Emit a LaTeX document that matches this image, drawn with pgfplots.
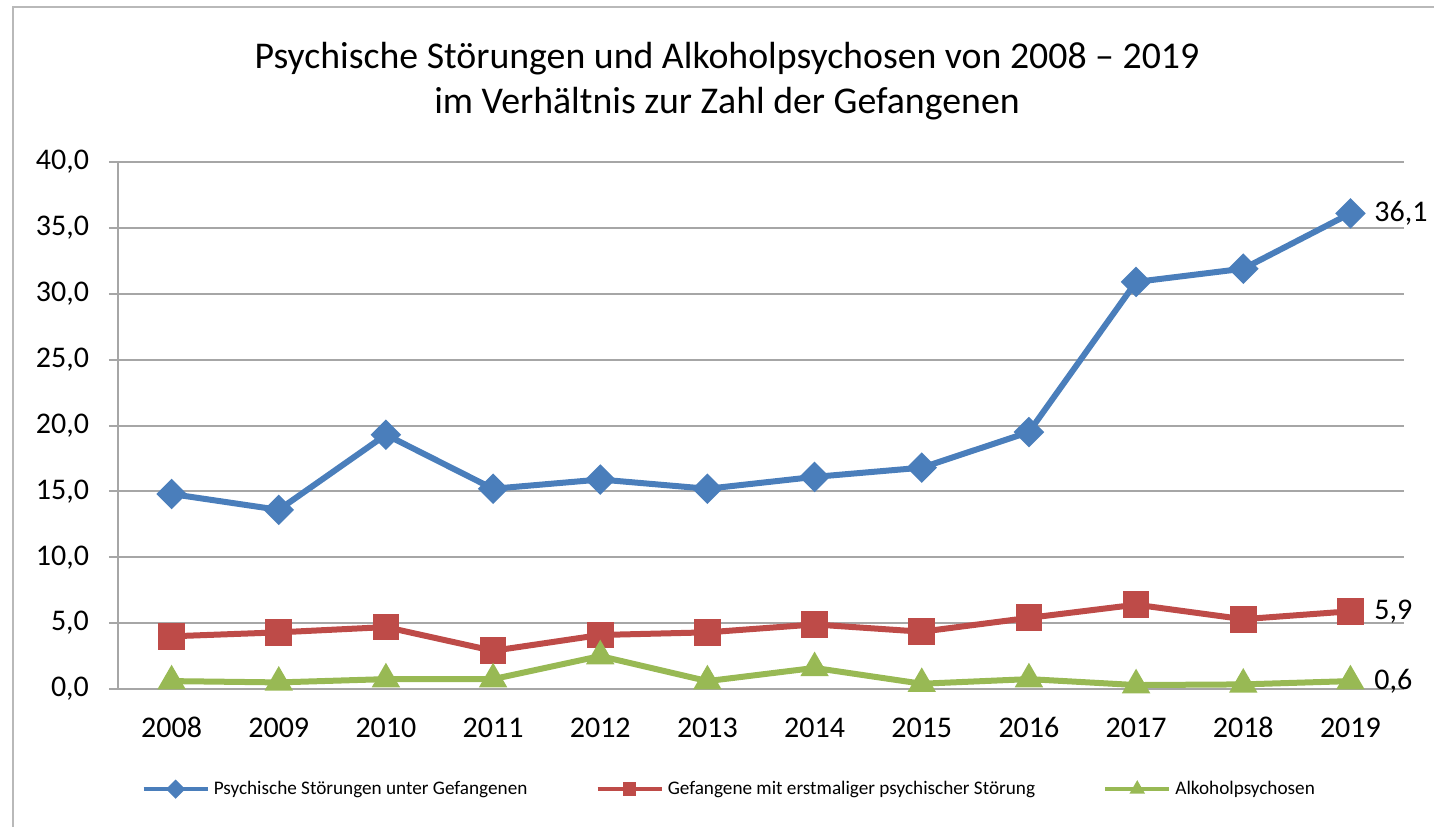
\documentclass[border=0pt]{standalone}
\usepackage{pgfplots}
\pgfplotsset{compat=1.18}
\usepackage{fontspec}
\setmainfont{Carlito}
\definecolor{cblue}{HTML}{4A7EBB}
\definecolor{cred}{HTML}{BE4B48}
\definecolor{cgreen}{HTML}{98B954}
\definecolor{cgrid}{HTML}{A6A6A6}
\begin{document}
\begin{tikzpicture}
\path[use as bounding box] (0,0) rectangle (717pt,413pt);
\draw[gray!55, line width=1.2pt] (6.5pt,-20pt) -- (6.5pt,409.5pt) -- (740pt,409.5pt);
\node[font=\fontsize{18.9}{22.5}\selectfont, align=center] at (363.5pt,372.5pt)
  {Psychische Störungen und Alkoholpsychosen von 2008 – 2019\\im Verhältnis zur Zahl der Gefangenen};
\begin{axis}[
  at={(59pt,68.5pt)}, anchor=south west,
  scale only axis, width=643pt, height=263.5pt,
  xmin=-0.5, xmax=11.5, ymin=0, ymax=40,
  clip=false,
  axis lines*=left,
  axis line style={draw=cgrid, line width=1pt},
  ymajorgrids, major grid style={draw=cgrid, line width=1pt},
  ytick={0,5,...,40},
  xtick={0,...,11},
  xticklabels={2008,2009,2010,2011,2012,2013,2014,2015,2016,2017,2018,2019},
  xtick style={draw=none},
  ytick style={draw=cgrid, line width=1pt},
  tick align=outside, major tick length=4.5pt,
  extra x ticks={-0.5,0.5,...,11.5},
  extra x tick labels={},
  extra x tick style={tick style={draw=cgrid, line width=1pt}, major tick length=5pt},
  ticklabel style={font=\fontsize{15}{18}\selectfont},
  yticklabel style={xshift=-6.5pt, /pgf/number format/.cd, fixed, fixed zerofill, precision=1, use comma, assume math mode=true},
  xticklabel style={yshift=-6pt, text height=10pt, text depth=0pt},
  legend style={at={(0.476,-0.19)}, anchor=center, legend columns=3, draw=none, fill=none,
    font=\fontsize{9.6}{11}\selectfont,
    /tikz/every even column/.append style={column sep=32pt},
    nodes={inner xsep=2pt}},
  legend image code/.code={\draw[#1, line width=2.2pt, mark size=2.3pt, mark repeat=2, mark phase=2] plot coordinates {(0pt,0pt) (16pt,0pt) (32pt,0pt)};},
]
\addplot[cblue, line width=3pt, mark=square*, mark size=3.9pt, mark options={rotate=45, solid}]
  coordinates {(0,14.8) (1,13.6) (2,19.3) (3,15.2) (4,15.9) (5,15.2) (6,16.1) (7,16.8) (8,19.5) (9,30.9) (10,31.9) (11,36.1)};
\addlegendentry{Psychische Störungen unter Gefangenen}
\addplot[cred, line width=3pt, mark=square*, mark size=5.2pt, mark options={solid}]
  coordinates {(0,4.0) (1,4.3) (2,4.7) (3,2.9) (4,4.1) (5,4.3) (6,4.9) (7,4.35) (8,5.4) (9,6.4) (10,5.3) (11,5.9)};
\addlegendentry{Gefangene mit erstmaliger psychischer Störung}
\addplot[cgreen, line width=3pt, mark=triangle*, mark size=5.2pt, mark options={solid}]
  coordinates {(0,0.6) (1,0.5) (2,0.75) (3,0.75) (4,2.5) (5,0.6) (6,1.6) (7,0.4) (8,0.75) (9,0.3) (10,0.35) (11,0.6)};
\addlegendentry{Alkoholpsychosen}
\node[anchor=west, font=\fontsize{15}{18}\selectfont, xshift=8.5pt] at (axis cs:11,36.1) {36,1};
\node[anchor=west, font=\fontsize{15}{18}\selectfont, xshift=8.5pt] at (axis cs:11,5.9) {5,9};
\node[anchor=west, font=\fontsize{15}{18}\selectfont, xshift=8.5pt] at (axis cs:11,0.6) {0,6};
\end{axis}
\end{tikzpicture}
\end{document}
